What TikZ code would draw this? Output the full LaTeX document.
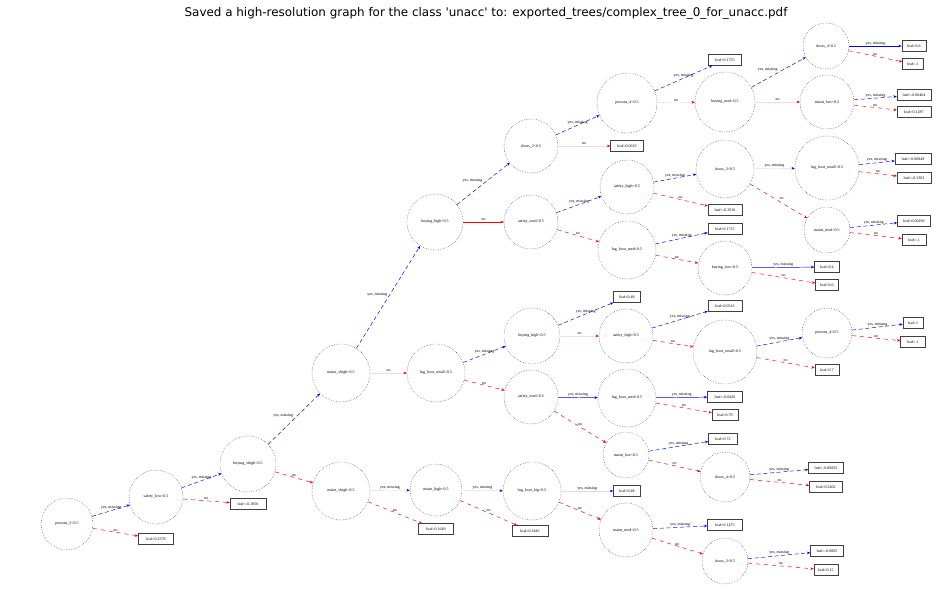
\documentclass[tikz,border=0pt]{standalone}
\usepackage{fontspec}
\setmainfont{Liberation Serif}
\newfontfamily\titlefont{DejaVu Sans}
\usetikzlibrary{arrows.meta}
\begin{document}
\begin{tikzpicture}[x=0.75pt,y=-0.75pt,
  dn/.style={circle,draw=black,line width=0.3pt,densely dotted,minimum size=#1*1.5pt,inner sep=0pt,font=\fontsize{3}{3.5}\selectfont},
  lf/.style={rectangle,draw=black!75,line width=0.4pt,minimum width=#1*0.75pt,minimum height=8pt,inner sep=0.5pt,font=\fontsize{3}{3.5}\selectfont},
  yes/.style={blue,densely dashed,line width=0.35pt,-{Stealth[length=2.5pt,width=2pt]}},
  no/.style={red,dashed,line width=0.35pt,-{Stealth[length=2.5pt,width=2pt]}},
  fyes/.style={draw=blue!15,line width=0.3pt,-{Stealth[length=2.5pt,width=2pt,color=blue]}},
  fno/.style={draw=red!15,line width=0.3pt,-{Stealth[length=2.5pt,width=2pt,color=red]}},
  lab/.style={black,font=\fontsize{3}{3.5}\selectfont,inner sep=0.6pt}]
\useasboundingbox (0,0) rectangle (943,609);
\node[font=\titlefont\fontsize{8.95}{11}\selectfont] (title) at (486,13) {Saved a high-resolution graph for the class 'unacc' to: exported\_trees/complex\_tree\_0\_for\_unacc.pdf};
\node[dn=26] (n1) at (67,524) {persons\_2<0.5};
\node[dn=27] (n2) at (156,497) {safety\_low<0.5};
\node[dn=28] (n3) at (248,464) {buying\_vhigh<0.5};
\node[dn=29] (n4) at (341,373) {maint\_vhigh<0.5};
\node[dn=29] (n5) at (341,491) {maint\_vhigh<0.5};
\node[dn=28] (n6) at (435,222) {buying\_high<0.5};
\node[dn=29] (n7) at (436,373) {lug\_boot\_small<0.5};
\node[dn=26] (n8) at (436,490) {maint\_high<0.5};
\node[dn=27] (n9) at (531,146) {doors\_2<0.5};
\node[dn=27] (n10) at (531,222) {safety\_med<0.5};
\node[dn=28] (n11) at (532,336) {buying\_high<0.5};
\node[dn=27] (n12) at (531,397) {safety\_med<0.5};
\node[dn=29] (n13) at (532,491) {lug\_boot\_big<0.5};
\node[dn=30] (n14) at (627,103) {persons\_4<0.5};
\node[dn=27] (n15) at (627,187) {safety\_high<0.5};
\node[dn=29] (n16) at (627,250) {lug\_boot\_med<0.5};
\node[dn=27] (n17) at (626,336) {safety\_high<0.5};
\node[dn=29] (n18) at (627,398) {lug\_boot\_med<0.5};
\node[dn=23] (n19) at (626,455) {maint\_low<0.5};
\node[dn=27] (n20) at (626,530) {maint\_med<0.5};
\node[dn=30] (n21) at (725,102) {buying\_med<0.5};
\node[dn=29] (n22) at (725,169) {doors\_3<0.5};
\node[dn=27] (n23) at (725,268) {buying\_low<0.5};
\node[dn=32] (n24) at (725,352) {lug\_boot\_small<0.5};
\node[dn=25] (n25) at (725,477) {doors\_4<0.5};
\node[dn=23] (n26) at (725,561) {doors\_3<0.5};
\node[dn=23] (n27) at (826,46) {doors\_4<0.5};
\node[dn=27] (n28) at (827,102) {maint\_low<0.5};
\node[dn=32] (n29) at (827,168) {lug\_boot\_small<0.5};
\node[dn=23] (n30) at (827,230) {maint\_med<0.5};
\node[dn=25] (n31) at (827,333) {persons\_4<0.5};
\node[lf=35] (l1) at (156,539) {leaf=0.2378};
\node[lf=36] (l2) at (248,504) {leaf=-0.1856};
\node[lf=35] (l3) at (436,529) {leaf=0.1649};
\node[lf=36] (l4) at (530,531) {leaf=0.3445};
\node[lf=33] (l5) at (627,146) {leaf=0.0619};
\node[lf=27] (l6) at (627,297) {leaf=0.48};
\node[lf=27] (l7) at (627,491) {leaf=0.48};
\node[lf=33] (l8) at (725,60) {leaf=0.1755};
\node[lf=34] (l9) at (725,210) {leaf=-0.2916};
\node[lf=34] (l10) at (725,229) {leaf=0.1715};
\node[lf=34] (l11) at (725,306) {leaf=0.0316};
\node[lf=35] (l12) at (725,397) {leaf=-0.0426};
\node[lf=26] (l13) at (725,415) {leaf=0.79};
\node[lf=29] (l14) at (723,439) {leaf=0.72};
\node[lf=35] (l15) at (725,525) {leaf=0.1475};
\node[lf=25] (l16) at (827,267) {leaf=0.4};
\node[lf=23] (l17) at (827,285) {leaf=0.6};
\node[lf=24] (l18) at (827,370) {leaf=0.7};
\node[lf=35] (l19) at (826,468) {leaf=-0.06835};
\node[lf=33] (l20) at (826,487) {leaf=0.2462};
\node[lf=33] (l21) at (827,551) {leaf=-0.0005};
\node[lf=24] (l22) at (826,570) {leaf=0.15};
\node[lf=24] (l23) at (914,46) {leaf=0.6};
\node[lf=21] (l24) at (913,64) {leaf=-1};
\node[lf=34] (l25) at (914,95) {leaf=-0.06464};
\node[lf=34] (l26) at (914,112) {leaf=0.1287};
\node[lf=36] (l27) at (913,159) {leaf=-0.00849};
\node[lf=34] (l28) at (914,178) {leaf=-0.1303};
\node[lf=33] (l29) at (914,221) {leaf=0.00296};
\node[lf=24] (l30) at (914,240) {leaf=-1};
\node[lf=20] (l31) at (913,323) {leaf=1};
\node[lf=25] (l32) at (913,342) {leaf=-1};
\draw[yes] (n1) -- (n2) node[lab,midway,above]{yes, missing};
\draw[no] (n1) -- (l1) node[lab,midway,above]{no};
\draw[yes] (n2) -- (n3) node[lab,midway,above]{yes, missing};
\draw[no] (n2) -- (l2) node[lab,midway,above]{no};
\draw[yes] (n3) -- (n4) node[lab,midway,above left]{yes, missing};
\draw[no] (n3) -- (n5) node[lab,midway,above]{no};
\draw[yes] (n4) -- (n6) node[lab,midway,above left]{yes, missing};
\draw[fno] (n4) -- (n7) node[lab,midway,above]{no};
\draw[fyes] (n5) -- (n8) node[lab,midway,above]{yes, missing};
\draw[no] (n5) -- (l3) node[lab,midway,above]{no};
\draw[yes] (n6) -- (n9) node[lab,midway,above left]{yes, missing};
\draw[no,solid] (n6) -- (n10) node[lab,midway,above]{no};
\draw[yes] (n7) -- (n11) node[lab,midway,above]{yes, missing};
\draw[no] (n7) -- (n12) node[lab,midway,above]{no};
\draw[fyes] (n8) -- (n13) node[lab,midway,above]{yes, missing};
\draw[no] (n8) -- (l4) node[lab,midway,above]{no};
\draw[yes] (n9) -- (n14) node[lab,midway,above]{yes, missing};
\draw[fno] (n9) -- (l5) node[lab,midway,above]{no};
\draw[yes] (n10) -- (n15) node[lab,midway,above]{yes, missing};
\draw[no] (n10) -- (n16) node[lab,midway,above]{no};
\draw[yes] (n11) -- (l6) node[lab,midway,above]{yes, missing};
\draw[fno] (n11) -- (n17) node[lab,midway,above]{no};
\draw[yes,solid] (n12) -- (n18) node[lab,midway,above]{yes, missing};
\draw[no] (n12) -- (n19) node[lab,midway,above]{no};
\draw[fyes] (n13) -- (l7) node[lab,midway,above]{yes, missing};
\draw[no] (n13) -- (n20) node[lab,midway,above]{no};
\draw[yes] (n14) -- (l8) node[lab,midway,above]{yes, missing};
\draw[fno] (n14) -- (n21) node[lab,midway,above]{no};
\draw[yes] (n15) -- (n22) node[lab,midway,above]{yes, missing};
\draw[no] (n15) -- (l9) node[lab,midway,above]{no};
\draw[yes] (n16) -- (l10) node[lab,midway,above]{yes, missing};
\draw[no] (n16) -- (n23) node[lab,midway,above]{no};
\draw[yes] (n17) -- (l11) node[lab,midway,above]{yes, missing};
\draw[no] (n17) -- (n24) node[lab,midway,above]{no};
\draw[yes,solid] (n18) -- (l12) node[lab,midway,above]{yes, missing};
\draw[no] (n18) -- (l13) node[lab,midway,above]{no};
\draw[yes] (n19) -- (l14) node[lab,midway,above]{yes, missing};
\draw[no] (n19) -- (n25) node[lab,midway,above]{no};
\draw[yes] (n20) -- (l15) node[lab,midway,above]{yes, missing};
\draw[no] (n20) -- (n26) node[lab,midway,above]{no};
\draw[yes] (n21) -- (n27) node[lab,midway,above left]{yes, missing};
\draw[fno] (n21) -- (n28) node[lab,midway,above]{no};
\draw[fyes] (n22) -- (n29) node[lab,midway,above]{yes, missing};
\draw[no] (n22) -- (n30) node[lab,midway,above right]{no};
\draw[yes,solid] (n23) -- (l16) node[lab,midway,above]{yes, missing};
\draw[no] (n23) -- (l17) node[lab,midway,above]{no};
\draw[yes] (n24) -- (n31) node[lab,midway,above]{yes, missing};
\draw[no] (n24) -- (l18) node[lab,midway,above]{no};
\draw[yes] (n25) -- (l19) node[lab,midway,above]{yes, missing};
\draw[no] (n25) -- (l20) node[lab,midway,above]{no};
\draw[yes] (n26) -- (l21) node[lab,midway,above]{yes, missing};
\draw[no] (n26) -- (l22) node[lab,midway,above]{no};
\draw[yes,solid] (n27) -- (l23) node[lab,midway,above]{yes, missing};
\draw[no] (n27) -- (l24) node[lab,midway,above]{no};
\draw[yes] (n28) -- (l25) node[lab,midway,above]{yes, missing};
\draw[no] (n28) -- (l26) node[lab,midway,above]{no};
\draw[yes] (n29) -- (l27) node[lab,midway,above]{yes, missing};
\draw[no] (n29) -- (l28) node[lab,midway,above]{no};
\draw[yes] (n30) -- (l29) node[lab,midway,above]{yes, missing};
\draw[no] (n30) -- (l30) node[lab,midway,above]{no};
\draw[yes] (n31) -- (l31) node[lab,midway,above]{yes, missing};
\draw[no] (n31) -- (l32) node[lab,midway,above]{no};
\end{tikzpicture}
\end{document}
